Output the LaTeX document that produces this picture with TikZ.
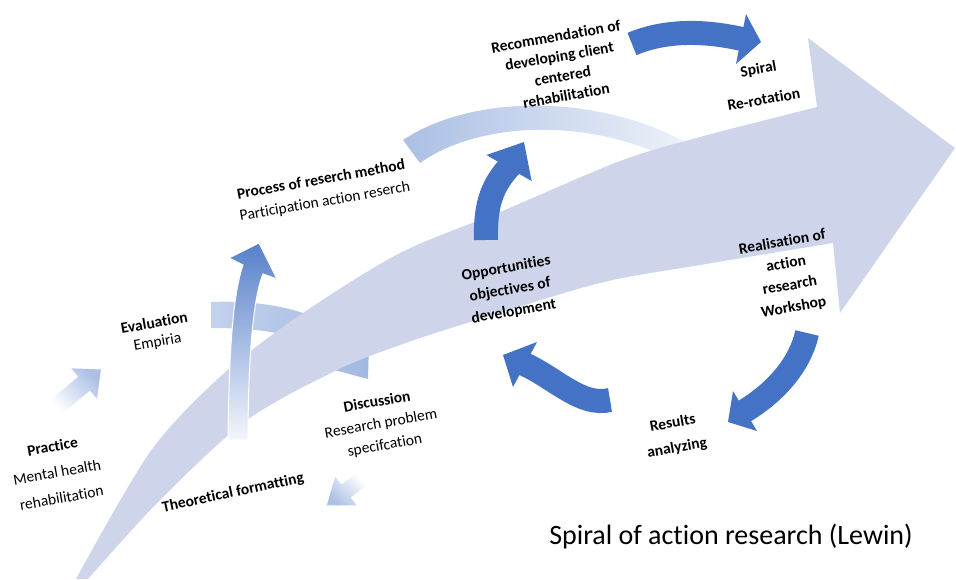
\documentclass[tikz,border=0pt]{standalone}
\usepackage{fontspec}
\setmainfont{Carlito}[Ligatures=NoCommon]

\definecolor{cyclebl}{RGB}{68,114,196}
\definecolor{spiralbl}{RGB}{206,213,234}

\begin{document}
\begin{tikzpicture}[x=1pt, y=1pt,
    steptext/.style={align=center, rotate=10, font=\fontsize{15.5}{22}\selectfont},
    boldtext/.style={steptext, font=\fontsize{15.5}{22}\selectfont\bfseries},
    shaft/.style={draw=cyclebl, line width=24pt},
    tiphead/.style={fill=cyclebl}]
    \useasboundingbox (0,0) rectangle (956,-579);

    % pale arrows behind the spiral
    \shade[left color=cyclebl!45!white, right color=cyclebl!8!white]
        (403,-140) .. controls (470,-95) and (600,-90) .. (700,-150)
        -- (690,-170) .. controls (600,-115) and (480,-120) .. (420,-163) -- cycle;
    \shade[left color=cyclebl!32!white, right color=cyclebl!50!white]
        (211,-302) .. controls (285,-299) and (335,-320) .. (360,-347)
        -- (369,-341) -- (368,-379) -- (331,-369) -- (340,-363)
        .. controls (318,-340) and (280,-328) .. (211,-328) -- cycle;

    % the big spiral arrow
    \fill[spiralbl] plot[smooth] coordinates {(76,-579) (150,-452) (222,-375) (300,-315) (400,-253) (500,-212) (620,-161) (700,-137) (817,-107)}
        -- (808,-38) -- (955,-148) -- (840,-313)
        -- plot[smooth] coordinates {(833,-243) (700,-265) (600,-283) (467,-323) (400,-345) (337,-370) (247,-420) (160,-500) (88,-579)} -- cycle;

    % theory up to method
    \shade[bottom color=cyclebl!6!white, top color=cyclebl!90!white, draw=white, line width=1pt]
        (228,-440) .. controls (229,-370) and (231,-300) .. (243,-265)
        -- (229,-258) -- (259,-243) -- (277,-279) -- (263,-274)
        .. controls (252,-300) and (248,-370) .. (248,-440) -- cycle;

    % inner cycle
    \draw[shaft] (486,-240) .. controls (485,-205) and (492,-185) .. (510.5,-165.5);
    \fill[tiphead] (486.4,-155) -- (524,-142) -- (531.6,-181) -- cycle;
    \draw[shaft] (632,-44) .. controls (670,-28) and (712,-32) .. (744,-39.5);
    \fill[tiphead] (746,-14) -- (761,-42) -- (736,-64) -- cycle;
    \draw[shaft] (807,-333) .. controls (800,-365) and (775,-393) .. (743,-412);
    \fill[tiphead] (733,-391) -- (728,-422) -- (757,-431) -- cycle;
    \draw[shaft] (610,-400) .. controls (581,-407) and (554.6,-377.5) .. (524,-364);
    \fill[tiphead] (537,-342) -- (503,-355) -- (513,-387) -- cycle;

    % small arrows
    \shade[bottom color=white, top color=cyclebl!45!white, shading angle=-45]
        (49.2,-401.1) -- (78.3,-376.7) -- (71.2,-368.3) -- (100.9,-369.5) -- (97,-399) -- (89.9,-390.5) -- (60.8,-414.9) -- cycle;
    \shade[top color=white, bottom color=cyclebl!45!white, shading angle=-45]
        (357.2,-472.6) -- (341.2,-484.6) -- (335.2,-476.6) -- (326.8,-505.4) -- (356.8,-505.4) -- (350.8,-497.4) -- (366.8,-485.4) -- cycle;

    \node[steptext] (practice) at (57,-472) {\textbf{Practice}\\[4pt]Mental health\\[4pt]rehabilitation};
    \node[steptext] (evaluation) at (156,-333) {\textbf{Evaluation}\\[-3pt]Empiria};
    \node[steptext] (method) at (323,-191) {\textbf{Process of reserch method}\\Participation action reserch};
    \node[boldtext] (recommend) at (561,-66) {Recommendation of\\[-2pt]developing client\\[-2pt]centered\\[-2pt]rehabilitation};
    \node[boldtext] (spiral) at (761,-84) {Spiral\\[9pt]Re-rotation};
    \node[boldtext] (realise) at (788,-275) {Realisation of\\action\\research\\Workshop};
    \node[boldtext] (chances) at (510,-290) {Opportunities\\objectives of\\development};
    \node[boldtext] (results) at (675,-436) {Results\\[3pt]analyzing};
    \node[steptext] (discussion) at (381,-424) {\textbf{Discussion}\\Research problem\\specifcation};
    \node[boldtext, rotate=2] (theory) at (233,-493) {Theoretical formatting};
    \node[font=\fontsize{28}{32}\selectfont] (title) at (731,-537) {Spiral of action research (Lewin)};
\end{tikzpicture}
\end{document}
